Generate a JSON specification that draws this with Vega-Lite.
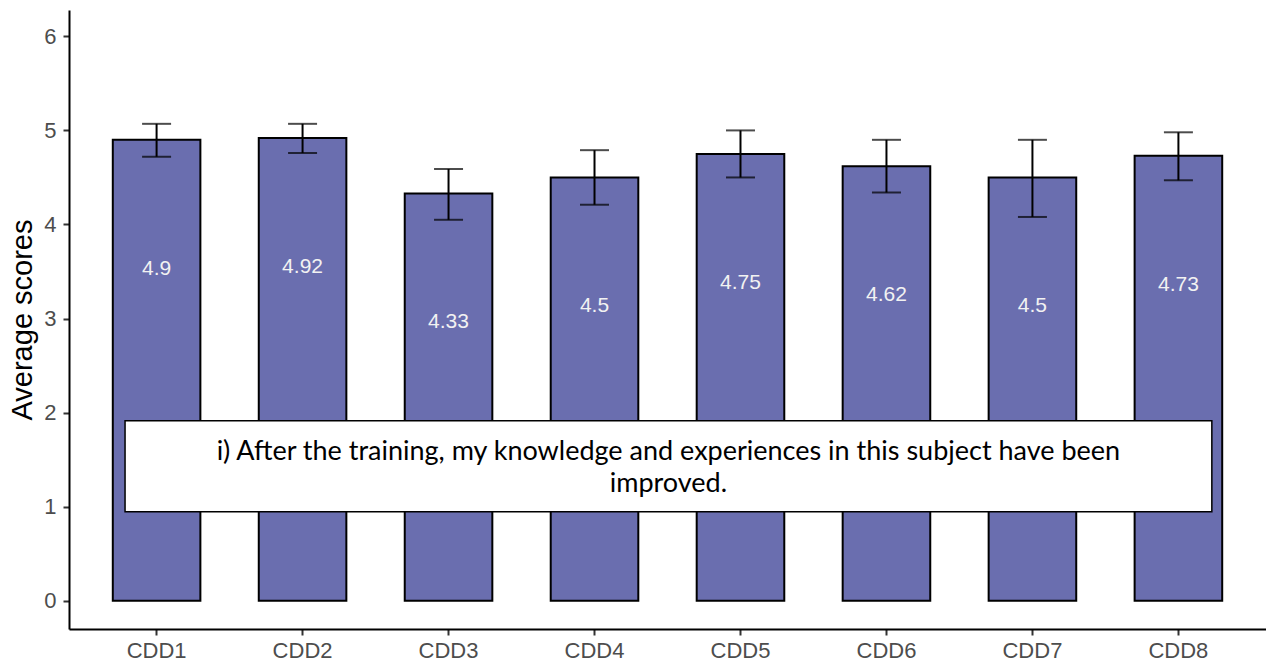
{
  "$schema": "https://vega.github.io/schema/vega-lite/v6.json",
  "width": 1197,
  "height": 619,
  "autosize": {"type": "none"},
  "padding": {"left": 69, "top": 10, "right": 0, "bottom": 32},
  "background": "white",
  "config": {"view": {"stroke": null}, "font": "Liberation Sans"},
  "datasets": {
    "scores": [
      {"item": "CDD1", "mean": 4.9, "lo": 4.72, "hi": 5.07},
      {"item": "CDD2", "mean": 4.92, "lo": 4.76, "hi": 5.07},
      {"item": "CDD3", "mean": 4.33, "lo": 4.05, "hi": 4.59},
      {"item": "CDD4", "mean": 4.5, "lo": 4.21, "hi": 4.79},
      {"item": "CDD5", "mean": 4.75, "lo": 4.5, "hi": 5.0},
      {"item": "CDD6", "mean": 4.62, "lo": 4.34, "hi": 4.9},
      {"item": "CDD7", "mean": 4.5, "lo": 4.08, "hi": 4.9},
      {"item": "CDD8", "mean": 4.73, "lo": 4.47, "hi": 4.98}
    ],
    "note": [
      {"x1": 0.784, "x2": 8.229, "y1": 0.947, "y2": 1.915, "xc": 4.506, "yc": 1.497, "label": ["i) After the training, my knowledge and experiences in this subject have been", "improved."]}
    ]
  },
  "layer": [
    {
      "data": {"name": "scores"},
      "encoding": {
        "x": {
          "field": "item", "type": "nominal", "sort": null,
          "scale": {"paddingInner": 0.4, "paddingOuter": 0.3},
          "axis": {"title": null, "labelAngle": 0, "labelFontSize": 22, "labelColor": "#4d4d4d", "labelPadding": 5,
                   "domainColor": "black", "domainWidth": 2, "tickColor": "#333333", "tickWidth": 2, "tickSize": 6, "grid": false}
        }
      },
      "layer": [
        {
          "mark": {"type": "bar", "color": "#6A6EAF", "stroke": "black", "strokeWidth": 2},
          "encoding": {
            "y": {
              "field": "mean", "type": "quantitative",
              "scale": {"domain": [-0.3, 6.28], "nice": false, "zero": false},
              "axis": {"title": "Average scores", "titleFontSize": 29, "titleFontWeight": "normal", "titleColor": "black", "titlePadding": 6,
                       "values": [0, 1, 2, 3, 4, 5, 6], "format": "d", "labelFontSize": 22, "labelColor": "#4d4d4d", "labelPadding": 7,
                       "domainColor": "black", "domainWidth": 2, "tickColor": "#333333", "tickWidth": 2, "tickSize": 6, "grid": false}
            },
            "y2": {"datum": 0}
          }
        },
        {
          "mark": {"type": "rule", "color": "black", "strokeWidth": 2},
          "encoding": {
            "y": {"field": "lo", "type": "quantitative"},
            "y2": {"field": "hi"}
          }
        },
        {
          "mark": {"type": "tick", "color": "black", "thickness": 2, "size": 29, "orient": "horizontal"},
          "encoding": {"y": {"field": "lo", "type": "quantitative"}}
        },
        {
          "mark": {"type": "tick", "color": "black", "thickness": 2, "size": 29, "orient": "horizontal"},
          "encoding": {"y": {"field": "hi", "type": "quantitative"}}
        },
        {
          "mark": {"type": "text", "color": "#f2f2f2", "fontSize": 21, "baseline": "middle", "align": "center", "dy": 129},
          "encoding": {
            "y": {"field": "mean", "type": "quantitative"},
            "text": {"field": "mean", "type": "quantitative"}
          }
        }
      ]
    },
    {
      "data": {"name": "note"},
      "encoding": {},
      "layer": [
        {
          "mark": {"type": "rect", "fill": "white", "stroke": "black", "strokeWidth": 1.5},
          "encoding": {
            "x": {"field": "x1", "type": "quantitative", "scale": {"domain": [0.4, 8.6], "nice": false, "zero": false}, "axis": null},
            "x2": {"field": "x2"},
            "y": {"field": "y1", "type": "quantitative"},
            "y2": {"field": "y2"}
          }
        },
        {
          "mark": {"type": "text", "font": "Lato", "fontSize": 27, "color": "black", "align": "center", "baseline": "alphabetic", "lineHeight": 32.5},
          "encoding": {
            "x": {"field": "xc", "type": "quantitative", "scale": {"domain": [0.4, 8.6], "nice": false, "zero": false}, "axis": null},
            "y": {"field": "yc", "type": "quantitative"},
            "text": {"field": "label"}
          }
        }
      ]
    }
  ],
  "resolve": {"scale": {"x": "independent"}}
}
